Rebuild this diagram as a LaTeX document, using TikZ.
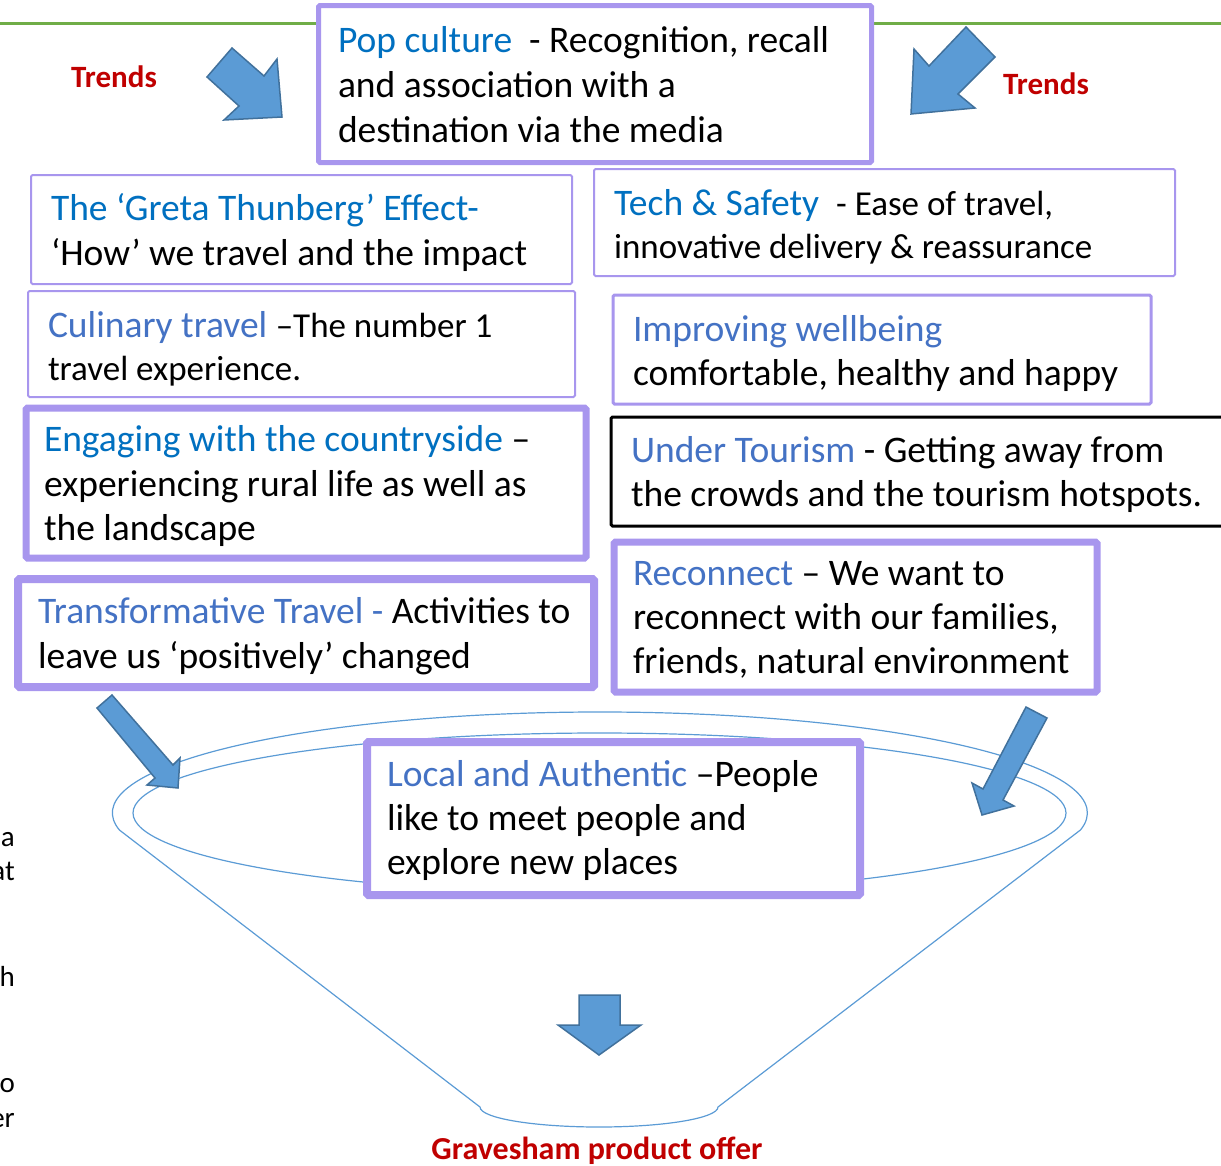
\documentclass[tikz,border=0pt]{standalone}
\usepackage{fontspec}
\setmainfont{Carlito}
\definecolor{lav}{RGB}{168,150,238}
\definecolor{blueA}{RGB}{0,112,192}
\definecolor{blueB}{RGB}{68,114,196}
\definecolor{trendred}{RGB}{192,0,0}
\definecolor{arrfill}{RGB}{91,155,213}
\definecolor{arrdraw}{RGB}{65,113,156}
\definecolor{funnelc}{RGB}{91,155,213}
\definecolor{linegreen}{RGB}{112,173,71}
\begin{document}
\begin{tikzpicture}[x=1pt,y=-1pt,
  txt/.style={anchor=base west, inner sep=0pt, outer sep=0pt, font=\fontsize{37.5}{45}\selectfont},
  small/.style={font=\fontsize{35}{43}\selectfont},
  box/.style={draw=lav, line width=#1, fill=white, rectangle, anchor=north west,
    outer sep=0pt, inner sep=0pt, rounded corners=1.5pt},
  blk/.style={fill=arrfill, draw=arrdraw, line width=1.5pt, line join=miter},
  funnel/.style={draw=funnelc, line width=1.2pt},
  trend/.style={inner sep=0pt, text=trendred, font=\bfseries\fontsize{31}{37}\selectfont},
  frag/.style={anchor=base east, inner sep=0pt, font=\fontsize{29}{35}\selectfont}]
\path[use as bounding box] (0,0) rectangle (1221,1165);
\clip (0,0) rectangle (1221,1165);

% green line
\draw[linegreen, line width=3pt] (0,23) -- (1221,23);

% funnel
\draw[funnel] (119.4,830) arc[start angle=189.7, end angle=-9.7, x radius=487.5pt, y radius=101pt]
  -- (718,1107) arc[start angle=0, end angle=-180, x radius=119pt, y radius=20pt] -- cycle;
\draw[funnel] (599.5,813) ellipse[x radius=466.5pt, y radius=80pt];

% cut-off fragments at the left edge
\node[frag] (fa) at (15,846) {a};
\node[frag] (fat) at (15,880) {at};
\node[frag] (fh) at (15,986) {h};
\node[frag] (fo) at (15,1092) {o};
\node[frag] (fer) at (15,1127) {er};

% Pop culture
\node[box=5pt, minimum width=553pt, minimum height=157pt] (popbox) at (318.5,5.5) {};
\node[txt] (pop1) at (338,52) {\textcolor{blueA}{Pop culture}\ \ - Recognition, recall};
\node[txt] (pop2) at (338,97) {and association with a};
\node[txt] (pop3) at (338,142) {destination via the media};

% Trends
\node[trend, anchor=base west] (trendsL) at (71,87) {Trends};
\node[trend, anchor=base west] (trendsR) at (1003,94) {Trends};

% Greta
\node[box=2pt, minimum width=541pt, minimum height=109pt] (gretabox) at (31,175) {};
\node[txt, text=blueA] (greta1) at (51,220) {The ‘Greta Thunberg’ Effect-};
\node[txt] (greta2) at (51,265) {‘How’ we travel and the impact};

% Culinary
\node[box=2pt, minimum width=547pt, minimum height=106pt] (culbox) at (28,291) {};
\node[txt] (cul1) at (48,337) {\textcolor{blueB}{Culinary travel} {\fontsize{35}{43}\selectfont –The number 1}};
\node[txt, small] (cul2) at (48,380) {travel experience.};

% Engaging
\node[box=7pt, minimum width=560pt, minimum height=150pt] (engbox) at (26,408) {};
\node[txt] (eng1) at (44,451) {\textcolor{blueA}{Engaging with the countryside} –};
\node[txt] (eng2) at (44,496) {experiencing rural life as well as};
\node[txt] (eng3) at (44,540) {the landscape};

% Transformative
\node[box=8pt, minimum width=576pt, minimum height=108pt] (transbox) at (18,579) {};
\node[txt] (trans1) at (38,623) {\textcolor{blueB}{Transformative Travel -} Activities to};
\node[txt] (trans2) at (38,668) {leave us ‘positively’ changed};

% Tech & Safety
\node[box=2pt, minimum width=581pt, minimum height=107pt] (techbox) at (594,169) {};
\node[txt] (tech1) at (614,215) {\textcolor{blueA}{Tech \& Safety}\ \ {\fontsize{35}{43}\selectfont - Ease of travel,}};
\node[txt, small] (tech2) at (614,258) {innovative delivery \& reassurance};

% Improving wellbeing
\node[box=3pt, minimum width=538pt, minimum height=109pt] (impbox) at (613,295) {};
\node[txt, text=blueB] (imp1) at (633,341) {Improving wellbeing};
\node[txt] (imp2) at (633,385) {comfortable, healthy and happy};

% Under Tourism
\node[box=3pt, draw=black, minimum width=619pt, minimum height=109pt] (underbox) at (611,417) {};
\node[txt] (under1) at (631,462) {\textcolor{blueB}{Under Tourism} - Getting away from};
\node[txt] (under2) at (631,506) {the crowds and the tourism hotspots.};

% Reconnect
\node[box=7pt, minimum width=483pt, minimum height=150pt] (reconbox) at (614,542) {};
\node[txt] (recon1) at (633,585) {\textcolor{blueB}{Reconnect} – We want to};
\node[txt] (recon2) at (633,629) {reconnect with our families,};
\node[txt] (recon3) at (633,673) {friends, natural environment};

% Local and Authentic
\node[box=8pt, minimum width=493pt, minimum height=153pt] (localbox) at (367,742) {};
\node[txt] (local1) at (387,786) {\textcolor{blueB}{Local and Authentic} –People};
\node[txt] (local2) at (387,830) {like to meet people and};
\node[txt] (local3) at (387,874) {explore new places};

% block arrows
\draw[blk] (207,77) -- (232,48) -- (264,76) -- (277,59) -- (282,117) -- (224,120) -- (239,106) -- cycle;
\draw[blk] (966,27) -- (995,57) -- (958,94) -- (975,108) -- (911,114) -- (914,49) -- (929,66) -- cycle;
\draw[blk] (97,708) -- (112,695) -- (173,765) -- (180,758) -- (178,788) -- (147,785) -- (155,778) -- cycle;
\draw[blk] (1026,707) -- (1047,718) -- (1003,800) -- (1014,806) -- (982,815) -- (972,783) -- (983,789) -- cycle;
\draw[blk] (579,995) -- (620,995) -- (620,1025) -- (641,1025) -- (599,1055) -- (558,1025) -- (579,1025) -- cycle;

% bottom label
\node[trend, anchor=base, font=\bfseries\fontsize{32}{38}\selectfont] (offer) at (597,1159) {Gravesham product offer};
\end{tikzpicture}
\end{document}
